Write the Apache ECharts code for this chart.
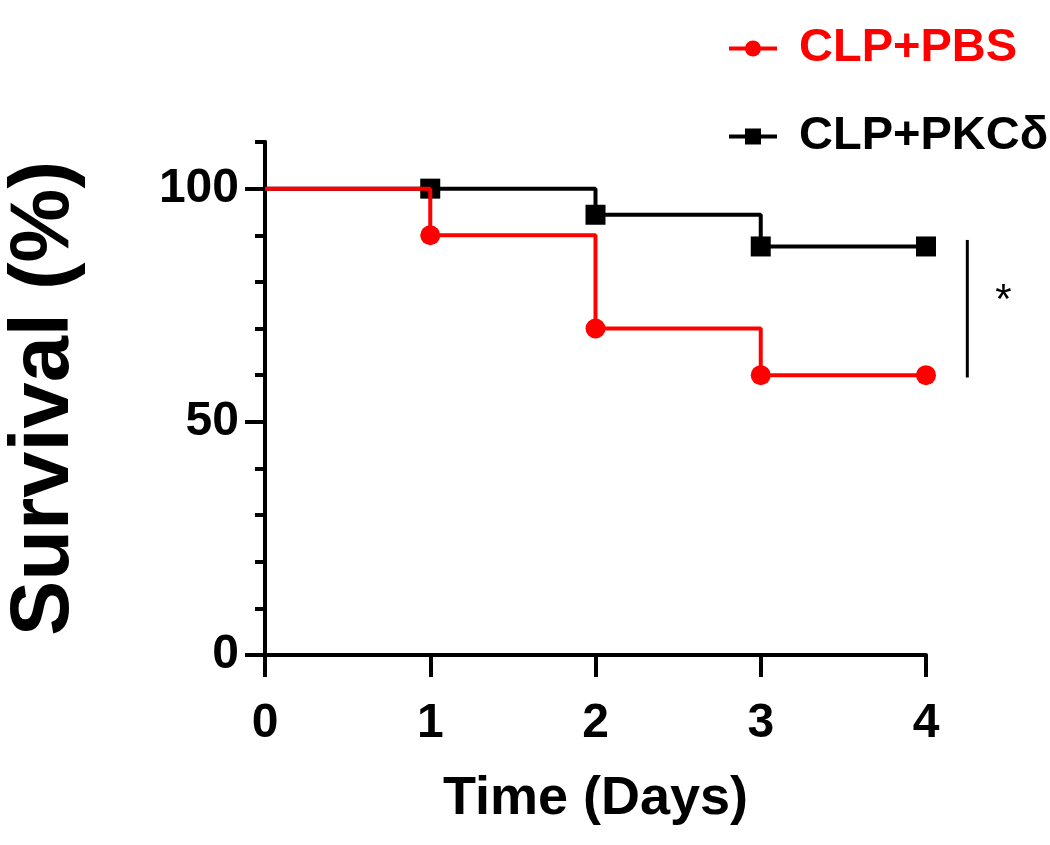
<!DOCTYPE html>
<html>
<head>
<meta charset="utf-8">
<script src="https://cdn.jsdelivr.net/npm/echarts@6/dist/echarts.min.js"></script>
<style>
  html, body { margin: 0; padding: 0; background: #fff; }
  #main { width: 1050px; height: 845px; }
</style>
</head>
<body>
<div id="main"></div>
<script>
  // 数据
  var days = [0, 1, 2, 3, 4]
  var pbsSurvival = [100, 90, 70, 60, 60]
  var pkcSurvival = [100, 100, 94.4, 87.6, 87.6]
  var yMajorTicks = [0, 50, 100]
  var yMinorTicks = [10, 20, 30, 40, 60, 70, 80, 90, 110]
  // 显著性标记 (x位置, 上端, 下端)
  var sigBar = [4.25, 89, 59.5]

  var sans = '"Liberation Sans", Arial, sans-serif'

  function toPairs(vals) {
    return days.map(function (d, i) { return [d, vals[i]] })
  }
  // 第0天不画标记
  function hideFirst(val) {
    return val[0] === 0 ? 0 : 20
  }

  var myChart = echarts.init(document.getElementById('main'))
  var option = {
    animation: false,
    legend: {
      orient: 'vertical',
      left: 722,
      top: 20,
      itemWidth: 48,
      itemHeight: 20,
      itemGap: 41,
      textStyle: { fontFamily: sans, fontWeight: 'bold', fontSize: 47, padding: [0, 0, 0, 17] },
      data: [
        { name: 'CLP+PBS', textStyle: { color: '#ff0000' }, itemStyle: { color: '#ff0000' }, lineStyle: { width: 4 } },
        { name: 'CLP+PKCδ', textStyle: { color: '#000' }, lineStyle: { width: 4 } }
      ]
    },
    grid: {
      left: 265,
      right: 124,
      top: 142,
      bottom: 190,
      outerBoundsMode: 'none'
    },
    xAxis: {
      type: 'value',
      min: 0,
      max: 4,
      interval: 1,
      name: 'Time (Days)',
      nameLocation: 'middle',
      nameGap: 117,
      nameTextStyle: { fontFamily: sans, fontWeight: 'bold', fontSize: 54, color: '#000' },
      splitLine: { show: false },
      axisLine: { onZero: false, lineStyle: { color: '#000', width: 4 } },
      axisTick: { length: 22, lineStyle: { color: '#000', width: 4 } },
      axisLabel: { margin: 45, fontFamily: sans, fontWeight: 'bold', fontSize: 48, color: '#000' }
    },
    yAxis: [
      {
        type: 'value',
        min: 0,
        max: 110,
        name: 'Survival (%)',
        nameLocation: 'middle',
        nameGap: 178,
        nameTextStyle: { fontFamily: sans, fontWeight: 'bold', fontSize: 83, color: '#000' },
        splitLine: { show: false },
        axisLine: { show: true, onZero: false, lineStyle: { color: '#000', width: 4 } },
        axisTick: { show: true, length: 20, customValues: yMajorTicks, lineStyle: { color: '#000', width: 4 } },
        axisLabel: { margin: 26, customValues: yMajorTicks, fontFamily: sans, fontWeight: 'bold', fontSize: 48, color: '#000' }
      },
      {
        type: 'value',
        min: 0,
        max: 110,
        position: 'left',
        splitLine: { show: false },
        axisLine: { show: true, onZero: false, lineStyle: { color: '#000', width: 4 } },
        axisTick: { show: true, length: 10, customValues: yMinorTicks, lineStyle: { color: '#000', width: 4 } },
        axisLabel: { show: false }
      }
    ],
    series: [
      {
        name: 'CLP+PKCδ',
        type: 'line',
        step: 'end',
        data: toPairs(pkcSurvival),
        symbol: 'rect',
        symbolSize: hideFirst,
        showAllSymbol: true,
        itemStyle: { color: '#000' },
        lineStyle: { color: '#000', width: 4 },
        z: 2
      },
      {
        name: 'CLP+PBS',
        type: 'line',
        step: 'end',
        data: toPairs(pbsSurvival),
        symbol: 'circle',
        symbolSize: hideFirst,
        showAllSymbol: true,
        itemStyle: { color: '#ff0000' },
        lineStyle: { color: '#ff0000', width: 4 },
        z: 3
      }
    ]
  }
  myChart.setOption(option, true)

  // 显著性竖线和星号 (坐标轴外, 用数据坐标换算)
  var p1 = myChart.convertToPixel({ gridIndex: 0 }, [sigBar[0], sigBar[1]])
  var p2 = myChart.convertToPixel({ gridIndex: 0 }, [sigBar[0], sigBar[2]])
  myChart.setOption({
    graphic: [
      {
        type: 'line',
        shape: { x1: p1[0], y1: p1[1], x2: p2[0], y2: p2[1] },
        style: { stroke: '#000', lineWidth: 3 }
      },
      {
        type: 'text',
        x: p1[0] + 28,
        y: (p1[1] + p2[1]) / 2 - 28,
        style: { text: '*', fontFamily: sans, fontSize: 42, fill: '#000' }
      }
    ]
  })
</script>
</body>
</html>
